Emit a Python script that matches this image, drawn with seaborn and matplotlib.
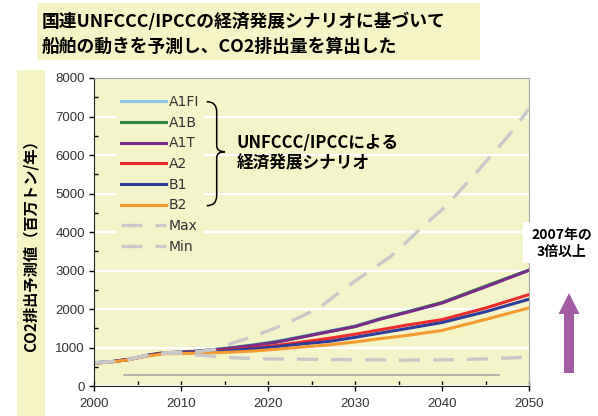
import matplotlib
matplotlib.use('Agg')
import matplotlib.pyplot as plt
import seaborn as sns
from matplotlib.patches import Rectangle, FancyArrow, PathPatch
from matplotlib.path import Path
from matplotlib.transforms import IdentityTransform
from matplotlib.ticker import MultipleLocator

# データ
years = [2000, 2002, 2004, 2006, 2008, 2010, 2012, 2015, 2018, 2021, 2024, 2027, 2030, 2033, 2036, 2040, 2045, 2050]
a1fi = [610, 640, 700, 800, 870, 890, 920, 985, 1070, 1170, 1300, 1435, 1565, 1765, 1935, 2170, 2590, 3020]
a1b = [610, 640, 700, 800, 870, 885, 912, 975, 1058, 1155, 1285, 1420, 1550, 1755, 1930, 2175, 2600, 3015]
a1t = [610, 640, 700, 800, 870, 885, 910, 970, 1050, 1145, 1280, 1415, 1550, 1750, 1920, 2160, 2580, 3010]
a2 = [600, 635, 695, 790, 860, 870, 890, 930, 990, 1060, 1150, 1245, 1350, 1470, 1590, 1730, 2030, 2380]
b1 = [600, 635, 695, 790, 860, 870, 880, 915, 970, 1030, 1100, 1165, 1270, 1385, 1500, 1655, 1935, 2260]
b2 = [600, 630, 690, 780, 845, 850, 860, 880, 910, 960, 1020, 1075, 1150, 1240, 1320, 1450, 1735, 2035]

max_years = [2000, 2002, 2004, 2006, 2008, 2010, 2012, 2014, 2016, 2018, 2020, 2022, 2024, 2026, 2028,
             2030, 2032, 2034, 2036, 2038, 2040, 2042, 2044, 2046, 2048, 2050]
max_vals = [610, 640, 700, 800, 870, 880, 900, 960, 1130, 1270, 1440, 1620, 1830, 2060, 2400,
            2730, 3040, 3350, 3760, 4190, 4580, 5060, 5560, 6080, 6600, 7200]
min_years = [2000, 2002, 2004, 2006, 2008, 2010, 2012, 2014, 2016, 2018, 2020, 2025, 2030, 2035, 2040, 2045, 2050]
min_vals = [610, 640, 700, 800, 860, 860, 810, 770, 740, 725, 710, 700, 690, 680, 685, 710, 760]

base_years = [2003.5, 2046.5]
base_vals = [290, 290]

scenarios = ['A1FI', 'A1B', 'A1T', 'A2', 'B1', 'B2']
colors = ['#8CC6EA', '#2F8A3F', '#7A2B8A', '#EE2A2A', '#2E3C9C', '#F59A30']

bg = '#F3F4C8'
jp = ['Noto Sans CJK JP', 'DejaVu Sans']

fig = plt.figure(figsize=(5.98, 4.16), dpi=100)
W, H = 598, 416
ax = fig.add_axes([94 / W, 29.7 / H, 435 / W, 308.3 / H])
ax.set_facecolor(bg)

for name, vals, c in zip(scenarios, [a1fi, a1b, a1t, a2, b1, b2], colors):
    sns.lineplot(x=years, y=vals, color=c, lw=2.2, label=name, ax=ax)

dash = (0, (6.3, 3.9))
sns.lineplot(x=max_years, y=max_vals, color='#C8C8C8', lw=2.4, linestyle=dash, label='Max', ax=ax)
sns.lineplot(x=min_years, y=min_vals, color='#C8C8C8', lw=2.4, linestyle=dash, label='Min', ax=ax)
sns.lineplot(x=base_years, y=base_vals, color='#A8A8A0', lw=1.2, ax=ax)

ax.set_xlim(2000, 2050)
ax.set_ylim(0, 8000)
ax.xaxis.set_major_locator(MultipleLocator(10))
ax.xaxis.set_minor_locator(MultipleLocator(5))
ax.yaxis.set_major_locator(MultipleLocator(1000))
ax.yaxis.set_minor_locator(MultipleLocator(500))
ax.set_xlabel('')
ax.set_ylabel('')
ax.yaxis.grid(True, color='white', lw=1.6)
ax.set_axisbelow(True)

ax.tick_params(axis='x', which='major', direction='inout', length=7, width=1, pad=5,
               labelsize=9.5, labelcolor='#333333')
ax.tick_params(axis='x', which='minor', direction='in', length=3.5, width=1)
ax.tick_params(axis='y', which='major', direction='out', length=3.5, width=1, pad=3,
               labelsize=9.5, labelcolor='#333333')
ax.tick_params(axis='y', which='minor', direction='in', length=3, width=1)
for lab in ax.get_xticklabels() + ax.get_yticklabels():
    lab.set_family(['Liberation Sans'])
for s in ['left', 'bottom']:
    ax.spines[s].set_color('#222222')
for s in ['top', 'right']:
    ax.spines[s].set_color('#A8A8A8')

leg = ax.legend(loc='upper left', bbox_to_anchor=((117 - 94) / 435, (386.3 - 91) / 308.3),
                borderaxespad=0, frameon=True, fancybox=False, handlelength=3.2,
                handletextpad=0.25, labelspacing=0.48, borderpad=0.3,
                prop={'family': 'DejaVu Sans', 'size': 10})
leg.get_frame().set_facecolor(bg)
leg.get_frame().set_edgecolor('none')
leg.get_frame().set_alpha(1)
for t in leg.get_texts():
    t.set_color('#333333')

# 中括弧
xl, xm, xt = 206.7, 216.7, 225
yt, ym, yb = H - 101.7, H - 151.7, H - 205.7
verts = [(xl, yt), (xm, yt), (xm, yt - 10), (xm, ym + 6), (xm, ym), (xt, ym),
         (xm, ym), (xm, ym - 6), (xm, yb + 10), (xm, yb), (xl, yb)]
codes = [Path.MOVETO, Path.CURVE3, Path.CURVE3, Path.LINETO, Path.CURVE3, Path.CURVE3,
         Path.CURVE3, Path.CURVE3, Path.LINETO, Path.CURVE3, Path.CURVE3]
fig.add_artist(PathPatch(Path(verts, codes), fill=False, lw=1.1, color='black',
                         transform=IdentityTransform()))
fig.text(237 / W, 1 - 153 / H, 'UNFCCC/IPCCによる\n経済発展シナリオ', ha='left', va='center',
         fontsize=12, fontweight='bold', family=jp, linespacing=1.2)

# タイトル
fig.add_artist(Rectangle((37 / W, 1 - 60 / H), 443 / W, 57 / H, transform=fig.transFigure,
                         color='#F4F4C6', lw=0))
fig.text(42 / W, 1 - 22 / H, '国連UNFCCC/IPCCの経済発展シナリオに基づいて', ha='left', va='center',
         fontsize=12.8, fontweight='bold', family=jp)
fig.text(42 / W, 1 - 47 / H, '船舶の動きを予測し、CO2排出量を算出した', ha='left', va='center',
         fontsize=12.8, fontweight='bold', family=jp)

# 縦軸ラベル
fig.add_artist(Rectangle((17 / W, 0), 28 / W, (H - 70) / H, transform=fig.transFigure,
                         color='#F4F4C6', lw=0))
fig.text(31 / W, 1 - 242 / H, 'CO2排出予測値（百万トン/年）', rotation=90, ha='center', va='center',
         fontsize=11, fontweight='bold', family=jp)

# 右側の注記と矢印
fig.add_artist(Rectangle((523 / W, 1 - 263 / H), 75 / W, 41 / H, transform=fig.transFigure,
                         color='white', lw=0))
fig.text(562 / W, 1 - 243 / H, '2007年の\n3倍以上', ha='center', va='center',
         fontsize=10, fontweight='bold', family=jp, linespacing=1.25)
fig.add_artist(FancyArrow(569, 43, 0, 80, width=10, head_width=21, head_length=21,
                          length_includes_head=True, color='#A35CA3', lw=0,
                          transform=IdentityTransform()))

fig.savefig('out.png', dpi=100)
